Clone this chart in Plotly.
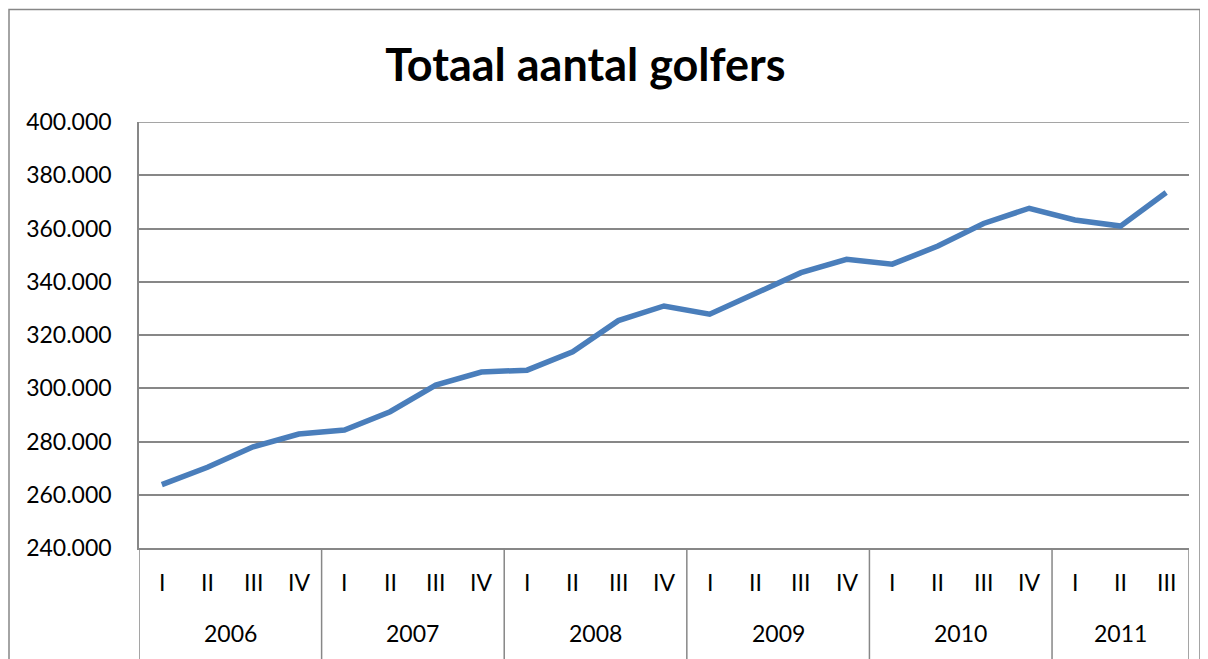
import plotly.graph_objects as go

year_labels = ["2006", "2007", "2008", "2009", "2010", "2011"]
quarters_per_year = [4, 4, 4, 4, 4, 3]
quarter_names = ["I", "II", "III", "IV"]
golfers = [263800, 270300, 278000, 282800, 284300, 291200, 301200, 306100,
           306800, 313700, 325400, 330900, 327800, 335400, 343400, 348400,
           346600, 353400, 361900, 367600, 363200, 360900, 373500]
y_min, y_max, y_step = 240000, 400000, 20000

categories = []
quarters = []
for yr, nq in zip(year_labels, quarters_per_year):
    for q in quarter_names[:nq]:
        categories.append(f"{yr} {q}")
        quarters.append(q)

font_family = "Lato, Calibri, Carlito, sans-serif"
grey = "#878787"

fig = go.Figure()
fig.add_trace(go.Scatter(
    x=categories, y=golfers, mode="lines",
    line=dict(color="#4A7EBB", width=5.5),
    showlegend=False, hoverinfo="skip",
))

annotations = []
shapes = []
# quarter labels
for i, q in enumerate(quarters):
    annotations.append(dict(x=i, y=-34 / 426, xref="x", yref="paper", text=q,
                            showarrow=False, xanchor="center", yanchor="middle",
                            font=dict(size=23)))
# year labels and dividers
start = 0
shapes.append(dict(type="line", xref="x", yref="paper", x0=-0.5, x1=-0.5,
                   y0=0, y1=-0.27, line=dict(color=grey, width=1.5)))
for yr, nq in zip(year_labels, quarters_per_year):
    mid = start + (nq - 1) / 2
    annotations.append(dict(x=mid, y=-85 / 426, xref="x", yref="paper", text=yr,
                            showarrow=False, xanchor="center", yanchor="middle",
                            font=dict(size=23)))
    end = start + nq - 0.5
    shapes.append(dict(type="line", xref="x", yref="paper", x0=end, x1=end,
                       y0=0, y1=-0.27, line=dict(color=grey, width=1.5)))
    start += nq

# top gridline
shapes.append(dict(type="line", xref="paper", yref="y", x0=0, x1=1,
                   y0=y_max, y1=y_max, line=dict(color=grey, width=1.5),
                   layer="below"))

# outer chart border
shapes.append(dict(type="rect", xref="paper", yref="paper",
                   x0=-130 / 1050, x1=1061 / 1050, y0=-0.5, y1=1 + 112.5 / 426,
                   line=dict(color=grey, width=1.5), fillcolor="rgba(0,0,0,0)",
                   layer="below"))

fig.update_layout(
    width=1208, height=659,
    margin=dict(l=131, r=27, t=114, b=119),
    paper_bgcolor="white", plot_bgcolor="white",
    separators=",.",
    font=dict(family=font_family, size=23, color="black"),
    title=dict(text="<b>Totaal aantal golfers</b>", x=0.478, xanchor="center",
               y=0.913, yanchor="middle", font=dict(size=45, family=font_family)),
    xaxis=dict(
        type="category",
        range=[-0.5, len(categories) - 0.5],
        showgrid=False,
        showline=True, linecolor=grey, linewidth=1.5,
        showticklabels=False, ticks="",
    ),
    yaxis=dict(
        range=[y_min, y_max], dtick=y_step, tickformat=",d",
        showgrid=True, gridcolor=grey, gridwidth=1.5,
        showline=True, linecolor=grey, linewidth=1.5,
        ticks="", ticklabelstandoff=21, tickfont=dict(size=23), zeroline=False,
    ),
    annotations=annotations,
    shapes=shapes,
)

fig.write_html("out.html")
